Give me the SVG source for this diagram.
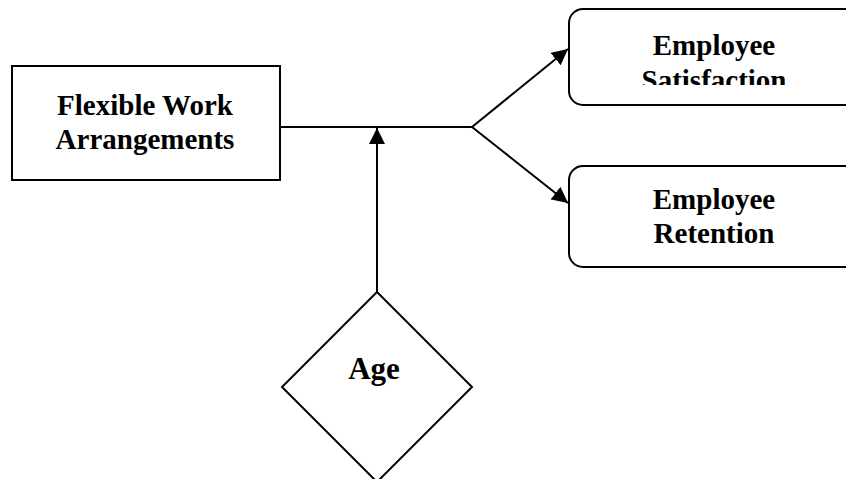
<svg xmlns="http://www.w3.org/2000/svg" width="846" height="479" viewBox="0 0 846 479">
  <defs>
    <style>
      .box { fill: #ffffff; stroke: #000000; stroke-width: 2; }
      .line { fill: none; stroke: #000000; stroke-width: 2; }
      .label { font-family: "Liberation Serif", "Times New Roman", serif; font-weight: bold; font-size: 29px; fill: #000000; text-anchor: middle; }
      .big { font-size: 31px; }
    </style>
    <marker id="arrowBig" viewBox="0 0 10 10" refX="10" refY="5" markerWidth="16" markerHeight="16" markerUnits="userSpaceOnUse" orient="auto">
      <path d="M0,0 L10,5 L0,10 z" fill="#000000"/>
    </marker>
    <clipPath id="satClip">
      <rect x="569" y="9" width="300" height="76"/>
    </clipPath>
  </defs>

  <rect width="846" height="479" fill="#ffffff"/>

  <g id="connectors">
    <path class="line" d="M280,127 L472,127"/>
    <path class="line" d="M472,127 L568,49" marker-end="url(#arrowBig)"/>
    <path class="line" d="M472,127 L568,203" marker-end="url(#arrowBig)"/>
    <path class="line" d="M377,292 L377,128" marker-end="url(#arrowBig)"/>
  </g>

  <g id="flexible-work">
    <rect class="box" x="12" y="66" width="268" height="114"/>
    <text class="label" x="145" y="115">Flexible Work</text>
    <text class="label" x="145" y="149">Arrangements</text>
  </g>

  <g id="employee-satisfaction">
    <rect class="box" x="569" y="9" width="300" height="96" rx="14" ry="14"/>
    <g clip-path="url(#satClip)">
      <text class="label" x="714" y="55">Employee</text>
      <text class="label" x="714" y="90">Satisfaction</text>
    </g>
  </g>

  <g id="employee-retention">
    <rect class="box" x="569" y="166" width="300" height="101" rx="14" ry="14"/>
    <text class="label" x="714" y="209">Employee</text>
    <text class="label" x="714" y="243">Retention</text>
  </g>

  <g id="age">
    <path class="box" d="M377,292 L472,387 L377,482 L282,387 Z"/>
    <text class="label big" x="374" y="379">Age</text>
  </g>
</svg>
